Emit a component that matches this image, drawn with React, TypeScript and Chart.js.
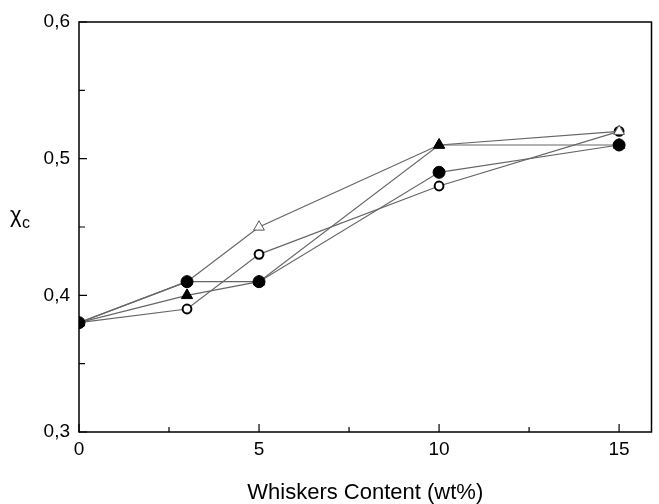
import React, { useEffect, useRef } from "react";
import { Chart, registerables } from "chart.js";

Chart.register(...registerables);

const categories = [0, 3, 5, 10, 15];
const filledCircle = [0.38, 0.41, 0.41, 0.49, 0.51];
const filledTriangle = [0.38, 0.40, 0.41, 0.51, 0.51];
const openTriangle = [0.38, 0.41, 0.45, 0.51, 0.52];
const openCircle = [0.38, 0.39, 0.43, 0.48, 0.52];

const xMajorTicks = [0, 5, 10, 15];
const xMinorTicks = [2.5, 7.5, 12.5];
const yMajorTicks = [0.3, 0.4, 0.5, 0.6];
const yMinorTicks = [0.35, 0.45, 0.55];

const FONT = "'Liberation Sans', Arial, sans-serif";

const toPts = (vals: number[]) => categories.map((x, i) => ({ x, y: vals[i] }));

const framePlugin = {
  id: "frame",
  beforeDatasetsDraw(chart: any) {
    const { ctx, chartArea } = chart;
    const xs = chart.scales.x;
    const ys = chart.scales.y;
    const { left, right, top, bottom } = chartArea;
    ctx.save();
    ctx.strokeStyle = "#000";
    ctx.lineWidth = 1.5;
    ctx.beginPath();
    ctx.rect(left, top, right - left, bottom - top);
    ctx.stroke();
    ctx.lineWidth = 1.2;
    ctx.beginPath();
    xMajorTicks.forEach((v) => {
      const px = xs.getPixelForValue(v);
      ctx.moveTo(px, bottom);
      ctx.lineTo(px, bottom - 8);
    });
    xMinorTicks.forEach((v) => {
      const px = xs.getPixelForValue(v);
      ctx.moveTo(px, bottom);
      ctx.lineTo(px, bottom - 5);
    });
    yMajorTicks.forEach((v) => {
      const py = ys.getPixelForValue(v);
      ctx.moveTo(left, py);
      ctx.lineTo(left + 8, py);
    });
    yMinorTicks.forEach((v) => {
      const py = ys.getPixelForValue(v);
      ctx.moveTo(left, py);
      ctx.lineTo(left + 6, py);
    });
    ctx.stroke();
    ctx.restore();
  },
  afterDraw(chart: any) {
    const { ctx } = chart;
    ctx.save();
    ctx.fillStyle = "#000";
    ctx.textBaseline = "alphabetic";
    ctx.textAlign = "left";
    ctx.font = `22px ${FONT}`;
    ctx.fillText("χ", 10, 222);
    ctx.font = `16px ${FONT}`;
    ctx.fillText("c", 22, 228);
    ctx.restore();
  },
};

export default function App() {
  const ref = useRef<HTMLCanvasElement>(null);
  useEffect(() => {
    if (!ref.current) return;
    const lineColor = "#666";
    const chart = new Chart(ref.current, {
      type: "line",
      data: {
        datasets: [
          {
            label: "filled circle",
            data: toPts(filledCircle),
            order: 0,
            borderColor: lineColor,
            borderWidth: 1.2,
            pointStyle: "circle",
            pointRadius: 6,
            pointBorderWidth: 1,
            pointBackgroundColor: "#000",
            pointBorderColor: "#000",
            tension: 0,
          },
          {
            label: "filled triangle",
            data: toPts(filledTriangle),
            order: 1,
            borderColor: lineColor,
            borderWidth: 1.2,
            pointStyle: "triangle",
            pointRadius: 6.5,
            pointBorderWidth: 1,
            pointBackgroundColor: "#000",
            pointBorderColor: "#000",
            tension: 0,
          },
          {
            label: "open triangle",
            data: toPts(openTriangle),
            order: 2,
            borderColor: lineColor,
            borderWidth: 1.2,
            pointStyle: "triangle",
            pointRadius: 6.2,
            pointBorderWidth: 1,
            pointBackgroundColor: "#fff",
            pointBorderColor: "#555",
            tension: 0,
          },
          {
            label: "open circle",
            data: toPts(openCircle),
            order: 3,
            borderColor: lineColor,
            borderWidth: 1.2,
            pointStyle: "circle",
            pointRadius: 4.4,
            pointBorderWidth: 2,
            pointBackgroundColor: "#fff",
            pointBorderColor: "#000",
            tension: 0,
          },
        ],
      },
      options: {
        responsive: false,
        animation: false,
        layout: { padding: { top: 22, left: 0, right: 0, bottom: 0 } },
        plugins: { legend: { display: false }, tooltip: { enabled: false } },
        scales: {
          x: {
            type: "linear",
            min: 0,
            max: 15.9,
            grid: { display: false, drawTicks: false },
            border: { display: false },
            afterBuildTicks: (s: any) => {
              s.ticks = xMajorTicks.map((v) => ({ value: v }));
            },
            afterFit: (s: any) => {
              s.height = 72;
            },
            ticks: {
              padding: 6,
              color: "#000",
              font: { family: FONT, size: 19 },
              callback: (v: any) => String(v),
              maxRotation: 0,
            },
            title: {
              display: true,
              text: "Whiskers Content (wt%)",
              color: "#000",
              font: { family: FONT, size: 22, lineHeight: 1 },
              padding: 0,
            },
          },
          y: {
            type: "linear",
            min: 0.3,
            max: 0.6,
            grid: { display: false, drawTicks: false },
            border: { display: false },
            afterBuildTicks: (s: any) => {
              s.ticks = yMajorTicks.map((v) => ({ value: v }));
            },
            afterFit: (s: any) => {
              s.width = 79;
            },
            ticks: {
              padding: 9,
              color: "#000",
              font: { family: FONT, size: 19 },
              callback: (v: any) => Number(v).toFixed(1).replace(".", ","),
            },
          },
        },
      },
      plugins: [framePlugin],
    });
    return () => chart.destroy();
  }, []);
  return (
    <div style={{ position: "fixed", left: 0, top: 0, width: 659, height: 504, background: "#fff" }}>
      <canvas ref={ref} width={659} height={504} style={{ display: "block" }} />
    </div>
  );
}
